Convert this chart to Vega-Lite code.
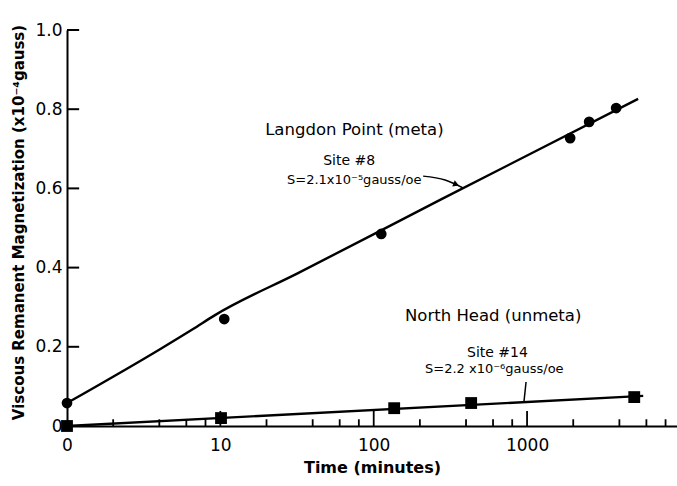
{
  "$schema": "https://vega.github.io/schema/vega-lite/v6.json",
  "width": 610,
  "height": 396,
  "autosize": {"type": "none"},
  "padding": {"left": 67, "top": 30, "right": 0, "bottom": 60},
  "background": "white",
  "config": {"view": {"stroke": null}, "font": "DejaVu Sans"},
  "datasets": {
    "fit": [
      {"site": "Langdon Point", "t": 1, "vrm": 0.058},
      {"site": "Langdon Point", "t": 4.04, "vrm": 0.194},
      {"site": "Langdon Point", "t": 6.64, "vrm": 0.245},
      {"site": "Langdon Point", "t": 9.23, "vrm": 0.28},
      {"site": "Langdon Point", "t": 32.1, "vrm": 0.386},
      {"site": "Langdon Point", "t": 271, "vrm": 0.571},
      {"site": "Langdon Point", "t": 5300, "vrm": 0.826},
      {"site": "North Head", "t": 1, "vrm": 0.0},
      {"site": "North Head", "t": 5720, "vrm": 0.076}
    ],
    "obs": [
      {"site": "Langdon Point", "t": 1, "vrm": 0.058},
      {"site": "Langdon Point", "t": 10.6, "vrm": 0.27},
      {"site": "Langdon Point", "t": 112, "vrm": 0.485},
      {"site": "Langdon Point", "t": 1910, "vrm": 0.727},
      {"site": "Langdon Point", "t": 2540, "vrm": 0.768},
      {"site": "Langdon Point", "t": 3810, "vrm": 0.803},
      {"site": "North Head", "t": 1, "vrm": 0.0},
      {"site": "North Head", "t": 10.1, "vrm": 0.02},
      {"site": "North Head", "t": 136, "vrm": 0.045},
      {"site": "North Head", "t": 432, "vrm": 0.058},
      {"site": "North Head", "t": 5000, "vrm": 0.073}
    ],
    "timeTicks": [
      {"t": 2, "kind": "minor"}, {"t": 4, "kind": "minor"}, {"t": 6, "kind": "minor"}, {"t": 8, "kind": "minor"},
      {"t": 10, "kind": "decade"},
      {"t": 20, "kind": "minor"}, {"t": 40, "kind": "minor"}, {"t": 60, "kind": "minor"}, {"t": 80, "kind": "minor"},
      {"t": 100, "kind": "decade"},
      {"t": 200, "kind": "minor"}, {"t": 400, "kind": "minor"}, {"t": 600, "kind": "minor"}, {"t": 800, "kind": "minor"},
      {"t": 1000, "kind": "decade"},
      {"t": 2000, "kind": "minor"}, {"t": 4000, "kind": "minor"}, {"t": 6000, "kind": "minor"}, {"t": 8000, "kind": "minor"}
    ],
    "vrmTicks": [
      {"vrm": 0.2}, {"vrm": 0.4}, {"vrm": 0.6}, {"vrm": 0.8}, {"vrm": 1.0}
    ],
    "leaders": [
      {"id": "Langdon Point", "t": 210, "vrm": 0.631},
      {"id": "Langdon Point", "t": 292, "vrm": 0.621},
      {"id": "Langdon Point", "t": 383, "vrm": 0.601},
      {"id": "North Head", "t": 985, "vrm": 0.111},
      {"id": "North Head", "t": 955, "vrm": 0.062}
    ],
    "arrowheads": [
      {"id": "Langdon Point", "t": 345, "vrm": 0.61}
    ],
    "notes": [
      {"kind": "name", "text": "Langdon Point (meta)", "t": 19.6, "vrm": 0.735},
      {"kind": "site", "text": "Site #8", "t": 46.8, "vrm": 0.659},
      {"kind": "slope", "text": "S=2.1x10⁻⁵gauss/oe", "t": 27.2, "vrm": 0.611},
      {"kind": "name", "text": "North Head (unmeta)", "t": 160, "vrm": 0.265},
      {"kind": "site", "text": "Site #14", "t": 406, "vrm": 0.174},
      {"kind": "slope", "text": "S=2.2 x10⁻⁶gauss/oe", "t": 216, "vrm": 0.134}
    ]
  },
  "layer": [
    {
      "data": {"name": "fit"},
      "mark": {"type": "line", "color": "black", "strokeWidth": 2.4, "interpolate": "monotone"},
      "encoding": {
        "x": {
          "field": "t",
          "type": "quantitative",
          "scale": {"type": "log", "domain": [1, 9500], "nice": false},
          "axis": {
            "values": [1, 10, 100, 1000],
            "labelExpr": "datum.value == 1 ? '0' : datum.value == 10 ? '10' : datum.value == 100 ? '100' : '1000'",
            "labelFlush": false,
            "labelOverlap": false,
            "labelFontSize": 17,
            "labelColor": "black",
            "labelPadding": 11,
            "ticks": false,
            "domainColor": "black",
            "domainWidth": 2,
            "grid": false,
            "title": "Time (minutes)",
            "titleFontSize": 16,
            "titleFontWeight": "bold",
            "titleColor": "black",
            "titlePadding": 6
          }
        },
        "y": {
          "field": "vrm",
          "type": "quantitative",
          "scale": {"domain": [0, 1], "nice": false},
          "axis": {
            "values": [0, 0.2, 0.4, 0.6, 0.8, 1.0],
            "labelExpr": "datum.value == 0 ? '0' : format(datum.value, '.1f')",
            "labelFontSize": 17,
            "labelColor": "black",
            "labelPadding": 5,
            "ticks": false,
            "domainColor": "black",
            "domainWidth": 2,
            "grid": false,
            "title": "Viscous Remanent Magnetization (x10⁻⁴gauss)",
            "titleFontSize": 15,
            "titleFontWeight": "bold",
            "titleColor": "black",
            "titlePadding": 8,
            "titleY": 192
          }
        },
        "detail": {"field": "site"},
        "order": {"field": "t"}
      }
    },
    {
      "data": {"name": "obs"},
      "transform": [{"filter": "datum.site == 'Langdon Point'"}],
      "mark": {"type": "point", "shape": "circle", "filled": true, "color": "black", "opacity": 1, "size": 115},
      "encoding": {
        "x": {"field": "t", "type": "quantitative"},
        "y": {"field": "vrm", "type": "quantitative"}
      }
    },
    {
      "data": {"name": "obs"},
      "transform": [{"filter": "datum.site == 'North Head'"}],
      "mark": {"type": "point", "shape": "square", "filled": true, "color": "black", "opacity": 1, "size": 140},
      "encoding": {
        "x": {"field": "t", "type": "quantitative"},
        "y": {"field": "vrm", "type": "quantitative"}
      }
    },
    {
      "data": {"name": "timeTicks"},
      "transform": [{"filter": "datum.kind == 'minor'"}],
      "mark": {"type": "rule", "color": "black", "strokeWidth": 1.8},
      "encoding": {
        "x": {"field": "t", "type": "quantitative"},
        "y": {"datum": 0},
        "y2": {"datum": 0.017}
      }
    },
    {
      "data": {"name": "timeTicks"},
      "transform": [{"filter": "datum.kind == 'decade'"}],
      "mark": {"type": "rule", "color": "black", "strokeWidth": 1.8},
      "encoding": {
        "x": {"field": "t", "type": "quantitative"},
        "y": {"datum": 0},
        "y2": {"datum": 0.038}
      }
    },
    {
      "data": {"name": "vrmTicks"},
      "mark": {"type": "rule", "color": "black", "strokeWidth": 2},
      "encoding": {
        "y": {"field": "vrm", "type": "quantitative"},
        "x": {"datum": 1},
        "x2": {"datum": 1.2}
      }
    },
    {
      "data": {"name": "leaders"},
      "mark": {"type": "line", "color": "black", "strokeWidth": 1.5, "interpolate": "monotone"},
      "encoding": {
        "x": {"field": "t", "type": "quantitative"},
        "y": {"field": "vrm", "type": "quantitative"},
        "detail": {"field": "id"}
      }
    },
    {
      "data": {"name": "arrowheads"},
      "mark": {"type": "point", "shape": "triangle-right", "filled": true, "color": "black", "opacity": 1, "size": 45, "angle": 22},
      "encoding": {
        "x": {"field": "t", "type": "quantitative"},
        "y": {"field": "vrm", "type": "quantitative"}
      }
    },
    {
      "data": {"name": "notes"},
      "transform": [{"filter": "datum.kind == 'name'"}],
      "mark": {"type": "text", "align": "left", "baseline": "alphabetic", "fontSize": 16.5, "color": "black"},
      "encoding": {
        "x": {"field": "t", "type": "quantitative"},
        "y": {"field": "vrm", "type": "quantitative"},
        "text": {"field": "text"}
      }
    },
    {
      "data": {"name": "notes"},
      "transform": [{"filter": "datum.kind == 'site'"}],
      "mark": {"type": "text", "align": "left", "baseline": "alphabetic", "fontSize": 14, "color": "black"},
      "encoding": {
        "x": {"field": "t", "type": "quantitative"},
        "y": {"field": "vrm", "type": "quantitative"},
        "text": {"field": "text"}
      }
    },
    {
      "data": {"name": "notes"},
      "transform": [{"filter": "datum.kind == 'slope'"}],
      "mark": {"type": "text", "align": "left", "baseline": "alphabetic", "fontSize": 13, "color": "black"},
      "encoding": {
        "x": {"field": "t", "type": "quantitative"},
        "y": {"field": "vrm", "type": "quantitative"},
        "text": {"field": "text"}
      }
    }
  ]
}
